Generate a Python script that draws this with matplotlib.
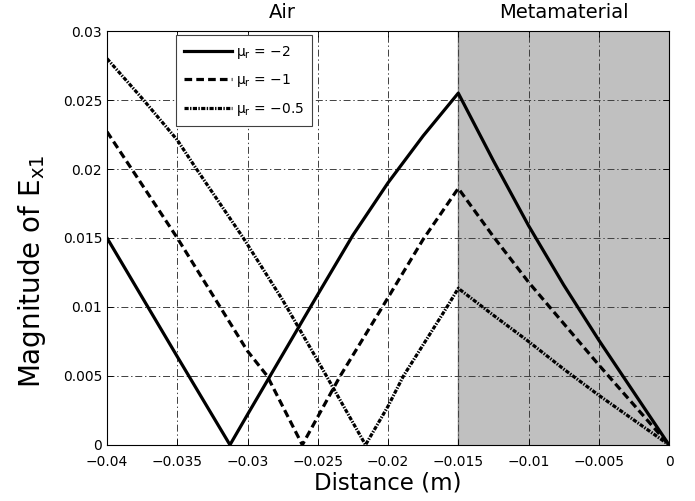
import matplotlib
matplotlib.use("Agg")
import matplotlib.pyplot as plt
import matplotlib.transforms as mtransforms

plt.rcParams['font.family'] = ['DejaVu Sans']
plt.rcParams['lines.scale_dashes'] = False
plt.rcParams['mathtext.fontset'] = 'dejavusans'

# ---- data ----
x_solid = [-0.04, -0.035, -0.03125, -0.03, -0.025, -0.0225, -0.02, -0.0175, -0.015,
           -0.0125, -0.01, -0.0075, -0.005, -0.0025, 0.0]
y_solid = [0.015, 0.0064, 0.0, 0.0022, 0.0109, 0.0152, 0.0190, 0.0224, 0.0255,
           0.0206, 0.0159, 0.0116, 0.0076, 0.0038, 0.0]

x_dash = [-0.04, -0.035, -0.03, -0.0286, -0.0261, -0.0234, -0.0204, -0.0175, -0.015,
          -0.0125, -0.01, -0.0075, -0.005, -0.0025, 0.0]
y_dash = [0.0227, 0.0150, 0.0068, 0.0050, 0.0, 0.0050, 0.0100, 0.0149, 0.0186,
          0.0151, 0.0118, 0.0088, 0.0058, 0.0029, 0.0]

x_dd = [-0.04, -0.0374, -0.035, -0.0337, -0.0303, -0.0275, -0.025, -0.0216, -0.02,
        -0.0189, -0.0158, -0.015, -0.0125, -0.01, -0.0075, -0.005, -0.0025, 0.0]
y_dd = [0.0280, 0.0250, 0.0221, 0.0201, 0.0150, 0.0105, 0.0061, 0.0, 0.0028,
        0.0050, 0.0100, 0.01135, 0.0094, 0.0075, 0.0055, 0.0036, 0.0018, 0.0]

labels = ['\u03bc$_\\mathregular{r}$ = \u22122', '\u03bc$_\\mathregular{r}$ = \u22121',
          '\u03bc$_\\mathregular{r}$ = \u22120.5']

x_ticks = [-0.04, -0.035, -0.03, -0.025, -0.02, -0.015, -0.01, -0.005, 0.0]
x_ticklabels = ['\u22120.04', '\u22120.035', '\u22120.03', '\u22120.025', '\u22120.02',
                '\u22120.015', '\u22120.01', '\u22120.005', '0']
y_ticks = [0, 0.005, 0.01, 0.015, 0.02, 0.025, 0.03]
y_ticklabels = ['0', '0.005', '0.01', '0.015', '0.02', '0.025', '0.03']

meta_start = -0.015

fig = plt.figure(figsize=(6.95, 5.01), dpi=100)
ax = fig.add_axes([0.154, 0.112, 0.8086, 0.826])

ax.axvspan(meta_start, 0.0, color='#c0c0c0', zorder=1, lw=0)
ax.axvline(meta_start, color='#7f7f7f', lw=1.0, zorder=1.5)

ax.plot(x_solid, y_solid, color='black', lw=2.3, ls='-', label=labels[0], zorder=3)
ax.plot(x_dash, y_dash, color='black', lw=2.3, ls=(0, (5.5, 3.0)), label=labels[1], zorder=3)
ax.plot(x_dd, y_dd, color='black', lw=2.3, ls=(0, (3.0, 1.0, 1.0, 1.0)), label=labels[2], zorder=3)

ax.set_xlim(-0.04, 0.0)
ax.set_ylim(0, 0.03)
ax.set_xticks(x_ticks)
ax.set_xticklabels(x_ticklabels)
ax.set_yticks(y_ticks)
ax.set_yticklabels(y_ticklabels)
ax.tick_params(direction='in', top=True, right=True, labelsize=10, length=4, width=0.6)
ax.tick_params(axis='x', pad=7)

ax.set_axisbelow(False)
ax.grid(True, color='#404040', lw=0.7, ls=(0, (5, 2, 1, 2)))

for s in ax.spines.values():
    s.set_linewidth(0.8)
    s.set_color('black')
    s.set_zorder(4)

ax.set_xlabel('Distance (m)', fontsize=16.5, labelpad=2)
ax.set_ylabel('Magnitude of E$_\\mathregular{x1}$', fontsize=20, labelpad=4)
ax.yaxis.set_label_coords(-0.105, 0.42)

trans = mtransforms.blended_transform_factory(ax.transData, ax.transAxes)
ax.text(-0.0275, 1.045, 'Air', transform=trans, ha='center', va='center', fontsize=14)
ax.text(-0.0075, 1.045, 'Metamaterial', transform=trans, ha='center', va='center', fontsize=14)

leg = ax.legend(loc='upper left', bbox_to_anchor=(0.123, 0.99), fontsize=10,
                frameon=True, fancybox=False, framealpha=1, edgecolor='#404040',
                handlelength=3.4, handletextpad=0.3, labelspacing=0.85,
                borderpad=0.6, borderaxespad=0)
leg.get_frame().set_linewidth(0.8)
leg.set_zorder(5)

fig.savefig('out.png', dpi=100)
